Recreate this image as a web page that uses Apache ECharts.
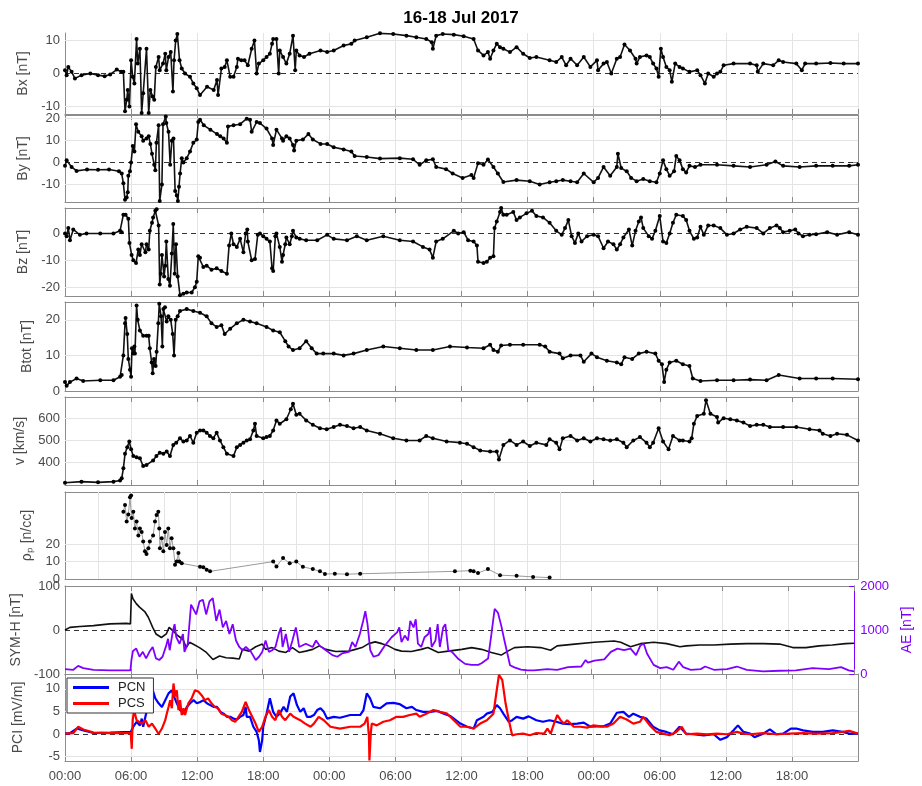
<!DOCTYPE html>
<html><head><meta charset="utf-8">
<script src="https://cdn.jsdelivr.net/npm/echarts@6/dist/echarts.min.js"></script>
<style>html,body{margin:0;padding:0;background:#fff}#c{width:922px;height:786px}</style>
</head><body><div id="c"></div>
<script>
// ---- tick labels ----
const xTickLabels = ['00:00','06:00','12:00','18:00','00:00','06:00','12:00','18:00','00:00','06:00','12:00','18:00'];
const rhoXTicks = [3,6,9,12,15,18,21,24,27,30,33,36,39,42,45];
const bxTicks = [-10,0,10];
const byTicks = [-10,0,10,20];
const bzTicks = [-20,-10,0];
const btotTicks = [0,10,20];
const vTicks = [400,500,600];
const rhoTicks = [0,10,20];
const symTicks = [-100,0,100];
const aeTicks = [0,1000,2000];
const pciTicks = [-5,0,5,10];

// ---- data: [hours since 16 Jul 00:00 UT, value] ----
const bxData = [[0,1],[0.15,-0.5],[0.3,2],[0.6,0.5],[0.9,-1.5],[1.5,-0.5],[2.3,0],[3.0,-0.5],[3.6,-0.8],[4.1,-0.3],[4.7,1.2],[5.1,0.5],[5.3,0.5],[5.45,-11.5],[5.6,-8],[5.7,-5],[5.85,-10],[6.0,4],[6.15,-1],[6.3,-3],[6.5,10.5],[6.6,3],[6.8,7.5],[6.96,-12],[7.1,-6],[7.4,7.5],[7.6,-12],[7.75,-5],[7.95,-7],[8.1,-8],[8.25,2],[8.5,5],[8.6,1],[8.9,3],[9.1,6],[9.2,1],[9.4,5],[9.6,6.5],[9.8,-5.5],[9.9,4],[10.05,10],[10.2,12],[10.4,4],[10.6,1.5],[10.9,0],[11.35,-1],[11.65,-3],[11.96,-4.5],[12.26,-6.5],[12.9,-4],[13.5,-5],[13.8,-2],[13.9,-6.5],[14.2,1.5],[14.5,2],[14.7,4],[15.0,-1],[15.3,-1],[15.6,2],[15.7,4.5],[16.0,4],[16.3,4],[16.6,2.5],[16.95,7.5],[17.2,10],[17.4,0],[17.6,3],[18.0,4],[18.3,5],[18.6,6],[18.8,9],[18.9,10.5],[19.2,10.5],[19.4,0],[19.5,7],[19.8,5],[20.1,3],[20.4,6],[20.7,11.5],[20.9,1],[21.0,7],[21.3,5.5],[21.7,5],[22.2,6],[23.2,7],[23.8,6.5],[24.4,7],[25.3,8.5],[26.0,9],[26.3,10],[27.4,11],[28.6,12.2],[29.8,12],[31.0,11.5],[31.9,11],[32.8,10.5],[33.3,9.5],[33.4,7.5],[33.7,11.5],[34.3,12],[35.3,11.8],[36.2,11.3],[37.1,10.5],[37.5,7],[38.0,5.5],[38.4,6.5],[38.6,4.5],[38.9,7],[39.2,9],[39.5,8],[39.8,7.5],[40.4,6.5],[41.0,8],[41.6,6],[42.2,4.7],[42.8,5],[44.0,4],[44.6,3.5],[45.1,5],[45.5,2.5],[45.9,4.5],[46.5,2.5],[47.1,5],[47.7,2],[48.3,4],[48.4,1],[48.9,3],[49.2,3.5],[49.6,0],[50.1,4.5],[50.4,5],[50.8,8.8],[51.3,7],[51.8,4.5],[51.9,3],[52.2,5],[52.8,5.5],[53.1,5],[53.4,3],[53.7,1.5],[53.9,-1],[54.1,7.5],[54.3,5],[54.6,2],[54.9,1],[55.1,-2.5],[55.4,3],[55.8,2],[56.1,1.5],[56.7,0.5],[57.4,1],[57.7,-0.5],[58.1,-3],[58.4,0],[58.9,-1],[59.2,0],[59.5,0.5],[59.8,2.5],[60.7,3],[62.2,3],[62.8,2.5],[62.9,0.5],[63.4,3],[64.3,2.5],[64.8,4],[65.2,3.5],[66.4,3],[66.9,1],[67.2,3],[68.2,3],[69.5,3.2],[70.7,3],[72,3]];

const byData = [[0,-1.5],[0.15,1],[0.6,-2],[1.05,-3.8],[2.0,-3.2],[3.0,-3.3],[4.0,-3.2],[4.9,-4],[5.15,-5],[5.3,-9.5],[5.45,-17],[5.6,-16],[5.7,-13.5],[5.75,-6],[5.9,-4],[6.0,0],[6.15,7.5],[6.3,5],[6.45,17.5],[6.65,14],[6.96,12],[7.1,10],[7.4,11],[7.6,12],[7.75,8.5],[7.9,4],[8.1,-1],[8.2,-3.5],[8.3,9],[8.5,17],[8.6,-17.5],[8.8,-10],[8.9,17.5],[9.15,21],[9.2,18],[9.4,14],[9.55,-1],[9.7,10],[9.85,11],[10.0,-13],[10.15,-15],[10.25,-17.5],[10.35,-11],[10.45,-5],[10.6,2],[10.75,0],[11.05,2],[11.35,5],[11.65,9],[11.96,10.5],[12.1,18.5],[12.26,19.5],[12.6,17],[13.2,15],[13.8,13],[14.1,12],[14.4,11],[14.7,9],[14.8,16.5],[15.3,17],[15.9,17.5],[16.5,20],[16.8,19.5],[16.95,14],[17.4,18.5],[17.7,18],[18.3,15.5],[18.8,11],[18.9,8],[19.2,15],[19.7,11],[19.8,10],[20.1,12],[20.4,11],[20.7,8],[20.8,5.5],[21.0,10],[21.6,10.5],[22.1,13],[22.5,10.5],[23.2,8.5],[23.8,8.5],[24.4,7],[25.3,6],[26.0,5],[26.3,3],[27.4,2.5],[28.6,1.8],[30.4,2],[31.6,1.5],[32.2,-1],[32.8,1],[33.4,1.5],[33.7,-2],[34.6,-3],[35.2,-5],[36.1,-7],[36.9,-5.7],[37.1,-7],[37.5,-0.3],[38.0,-1],[38.4,1.4],[38.9,-2],[39.3,-5],[39.8,-8.9],[41.0,-8],[42.2,-8.5],[43.1,-10],[44.0,-9],[44.6,-8.5],[45.2,-8],[45.9,-8.5],[46.5,-9],[47.1,-5],[48.0,-9],[48.4,-7],[48.9,-2],[49.5,-6],[50.1,-2],[50.2,4],[50.5,-2.5],[51.0,-4],[51.4,-7],[51.9,-8.5],[52.5,-7.5],[53.1,-8.5],[53.7,-9],[54.0,-5],[54.3,1],[54.6,-3],[54.9,-6],[55.3,-4],[55.5,3],[55.8,1],[56.1,-3],[56.4,-4.5],[56.7,-1.5],[57.2,-2],[57.7,-1],[59.2,-1],[60.7,-1.5],[62.2,-2],[63.7,-1],[64.5,0.5],[65.2,-1.5],[66.7,-2],[68.2,-1.5],[69.7,-1.5],[71.2,-1.5],[72,-1]];

const bzData = [[0,0],[0.15,-1],[0.3,2],[0.45,-2.5],[0.75,1.5],[1.35,-0.5],[1.95,0],[3.2,0],[4.4,0],[5.0,1],[5.15,0.5],[5.3,7],[5.5,7],[5.75,5.5],[5.85,-3.5],[6.05,-8],[6.2,-10],[6.45,-11],[6.65,-6],[6.8,-8],[6.96,-4],[7.3,-7],[7.4,-4],[7.6,-6],[7.7,1],[7.9,4],[8.0,6],[8.2,8.5],[8.32,9],[8.5,3],[8.6,-19],[8.7,-15],[8.8,-8],[9.0,-16],[9.1,-12],[9.2,-3],[9.38,-17],[9.53,-19.5],[9.7,-7.5],[9.83,3.5],[9.96,-15],[10.08,-4],[10.23,-16],[10.44,-23],[10.75,-22.5],[11.05,-22],[11.5,-22],[11.8,-20],[11.96,-18],[12.1,-8.5],[12.26,-9],[12.56,-12.5],[12.86,-12],[13.3,-13.5],[13.77,-13],[14.2,-14],[14.7,-15],[14.9,-4.5],[15.1,0],[15.3,-4],[15.6,-5],[15.9,-2],[16.2,-7],[16.4,0],[16.55,1.5],[16.6,-3],[16.95,-10],[17.25,-9.5],[17.5,-0.5],[17.7,0],[18.0,-1],[18.3,-2],[18.6,-3],[18.8,-13],[18.9,-14],[19.1,-1],[19.2,0],[19.5,-5],[19.7,-10.5],[19.8,-8],[20.0,-4],[20.1,-1.5],[20.4,-4],[20.6,-1],[20.7,1],[21.0,-1.5],[21.3,-2],[21.9,-2.5],[22.9,-2.5],[23.8,-0.5],[24.4,-2],[25.6,-2.5],[26.5,-1],[27.4,-2.5],[28.9,-1],[30.4,-2.5],[31.6,-3],[32.5,-5],[33.1,-6],[33.4,-9],[33.7,-3],[34.3,-2],[35.3,1],[35.7,0],[36.2,0.5],[36.6,-2.5],[37.1,-3],[37.4,-4.5],[37.5,-10.5],[38.0,-11],[38.3,-10.5],[38.6,-9],[38.9,-8.5],[39.0,2],[39.2,4.5],[39.5,8],[39.6,9.5],[39.8,7],[40.1,7],[40.7,8],[41.0,5],[41.3,6],[41.9,7.5],[42.4,8.5],[42.8,6.5],[43.4,6],[44.0,4],[44.6,1],[45.1,-0.5],[45.4,2],[45.7,5],[46.0,-1],[46.3,-3.5],[46.6,0],[46.9,-3],[47.4,-1],[48.0,-0.5],[48.4,-1],[48.9,-5.5],[49.3,-3],[49.8,-4],[50.1,-6],[50.4,-4],[50.7,-1.5],[51.2,1.5],[51.5,-4.5],[51.8,1],[52.1,4.5],[52.3,6],[52.5,2],[53.0,-1],[53.3,-2],[53.6,1],[54.0,6.5],[54.3,-3],[54.6,-3.5],[54.9,0],[55.2,4],[55.5,7],[56.1,6.5],[56.4,5],[56.7,1],[57.1,-2],[57.4,-1.5],[57.7,2.5],[58.0,-0.5],[58.4,3],[58.9,3],[59.5,2],[60.1,-0.5],[60.7,0],[61.3,1.5],[61.9,2.5],[62.8,2],[63.4,0],[64.0,2],[64.6,3],[64.9,2],[65.2,0.5],[65.8,1],[66.3,1.5],[66.6,0],[67.0,-1],[67.6,-0.5],[68.2,-0.3],[69.2,0.5],[70.1,-0.5],[71.2,0.5],[72,-0.5]];

const btotData = [[0,2.5],[0.15,1.5],[0.45,2.5],[1.05,3.5],[1.65,2.8],[3.2,3],[4.4,3],[5.0,4],[5.15,4.5],[5.3,10],[5.45,19],[5.5,20.5],[5.65,16],[5.75,9],[5.9,6],[6.0,4],[6.08,12],[6.2,10.5],[6.3,12.5],[6.35,10.5],[6.5,24],[6.6,20],[6.8,17],[7.1,15.5],[7.4,15.5],[7.6,15.5],[7.7,12],[7.87,8],[7.96,5],[8.08,9],[8.23,7],[8.32,11],[8.47,19],[8.56,24.5],[8.72,21],[8.84,12.5],[8.93,23],[9.08,23.5],[9.23,19.5],[9.38,21],[9.6,20],[9.78,16],[9.9,10],[10.05,20],[10.23,21],[10.44,22.5],[11.05,23],[11.65,22.5],[12.26,22],[12.86,21],[13.3,19],[13.77,18],[14.2,18.5],[14.5,16],[15.0,17.5],[15.6,19],[16.2,20],[16.8,19.5],[17.4,19],[18.3,18],[18.9,17],[19.5,16.5],[20.0,14],[20.3,12.5],[20.7,11.5],[21.3,12],[21.9,14],[22.4,12],[22.85,10.5],[23.45,10.5],[24.4,10.5],[25.3,10],[26.2,10.5],[27.4,11.5],[28.9,12.5],[30.4,12],[31.9,11.5],[33.4,11.5],[34.95,12.5],[36.5,12.2],[38.0,12],[38.6,13],[38.9,11.5],[39.3,11],[39.6,12.8],[40.4,13],[41.6,13],[43.1,13],[43.6,12.5],[44.0,11],[44.9,10.5],[45.2,9.2],[45.9,10],[46.8,10],[47.1,8.2],[47.8,10.5],[48.3,9.5],[49.2,8.5],[50.1,8],[50.5,7.5],[50.8,9.5],[51.5,9],[52.1,10.5],[52.8,11],[53.6,10.5],[53.9,8.5],[54.2,7.5],[54.4,2.5],[54.6,6],[54.9,8],[55.5,8.5],[56.1,7.5],[56.7,7],[57.0,3.5],[57.7,2.8],[59.2,3],[60.7,3],[62.2,3.2],[63.7,3],[64.8,4.5],[66.7,3.5],[68.2,3.5],[69.7,3.5],[72,3.3]];

const vData = [[0,310],[1.5,315],[3.0,312],[4.4,315],[5.0,320],[5.15,330],[5.3,375],[5.45,440],[5.65,470],[5.84,495],[6.0,460],[6.2,430],[6.5,425],[6.8,420],[7.1,385],[7.4,390],[8.0,410],[8.3,430],[8.6,445],[8.93,440],[9.23,450],[9.53,430],[9.83,480],[10.1,490],[10.44,510],[10.75,495],[11.05,500],[11.35,520],[11.65,490],[11.96,535],[12.26,545],[12.56,545],[12.86,535],[13.16,520],[13.47,510],[13.77,535],[14.07,500],[14.38,470],[14.7,440],[15.3,430],[15.6,470],[15.9,480],[16.2,490],[16.5,500],[16.8,505],[17.1,545],[17.25,575],[17.4,520],[18.0,510],[18.3,515],[18.6,520],[18.9,545],[19.2,590],[19.5,575],[20.1,595],[20.5,640],[20.7,665],[21.0,615],[21.3,620],[21.9,590],[22.5,570],[23.15,555],[23.76,550],[24.4,560],[24.97,570],[25.6,565],[26.2,555],[26.8,560],[27.4,545],[28.6,530],[29.8,510],[31.0,500],[32.2,500],[32.8,520],[33.4,510],[34.65,495],[35.86,490],[36.5,485],[37.1,470],[37.7,455],[38.6,450],[39.2,450],[39.4,415],[39.8,480],[40.4,500],[41.0,480],[41.6,495],[42.2,475],[42.8,490],[43.7,480],[44.0,505],[44.6,490],[44.9,460],[45.2,510],[45.9,520],[46.5,500],[47.1,510],[47.7,495],[48.3,510],[48.9,505],[49.5,500],[50.1,505],[50.7,490],[51.0,470],[51.6,500],[52.2,515],[52.8,490],[53.1,470],[53.4,490],[53.9,555],[54.3,495],[54.8,460],[55.2,520],[55.8,500],[56.1,500],[56.7,495],[56.9,510],[57.1,575],[57.4,610],[58.0,620],[58.2,680],[58.6,620],[59.2,605],[59.3,580],[59.8,600],[60.4,595],[61.0,590],[61.6,580],[62.2,565],[62.8,570],[63.4,570],[64.0,560],[65.2,560],[66.4,560],[67.6,550],[68.5,545],[68.8,530],[69.5,520],[70.1,530],[71.0,525],[72,500]];

const rhoData = [[5.3,38.7],[5.45,42.5],[5.6,33],[5.75,37],[5.9,47],[6.0,48],[6.05,35],[6.2,38.7],[6.35,29],[6.5,33],[6.66,25],[6.8,29],[6.96,27],[7.1,21.5],[7.26,16],[7.4,14.3],[7.57,17.7],[7.7,21.5],[8.0,25],[8.17,33],[8.32,36.8],[8.47,38.7],[8.56,29],[8.62,17.7],[8.78,23.4],[8.93,16],[9.08,27],[9.23,19.6],[9.38,29],[9.53,17.7],[9.68,23.4],[9.84,17.7],[9.99,8.2],[10.14,10],[10.3,14.9],[10.38,10],[10.6,9],[12.26,7],[12.56,6.7],[12.86,5.3],[13.17,4.4],[18.9,10],[19.2,7.2],[19.8,12],[20.4,9],[21.0,10],[21.6,7],[22.5,5.7],[23.15,4.4],[23.6,2.9],[24.5,3],[25.6,2.8],[26.8,3],[35.4,4.4],[36.8,4.8],[37.1,4.4],[37.5,3.4],[38.4,5.7],[39.5,2.2],[41.0,1.8],[42.5,1.2],[44.0,0.8]];

const symhData = [[0,0],[0.45,6],[1.36,8],[2.6,10],[4.1,14],[5.6,15],[5.97,14],[6.06,83],[6.2,71],[6.5,60],[6.8,52],[7.3,41],[7.6,29],[8.0,6],[8.3,-9],[8.8,-17],[9.24,-9],[9.5,6],[9.85,-2],[10.3,-13],[10.76,-21],[11.06,-40],[11.36,-28],[11.67,-32],[12.27,-40],[12.9,-51],[13.5,-67],[14.1,-59],[14.7,-63],[15.3,-64],[15.9,-66],[16.2,-44],[16.8,-48],[17.4,-38],[18.0,-32],[18.3,-44],[18.9,-40],[19.5,-48],[20.15,-51],[20.75,-40],[21.36,-51],[21.97,-48],[22.6,-44],[23.2,-36],[23.8,-44],[24.7,-49],[25.9,-48],[26.5,-44],[27.1,-40],[27.7,-31],[28.3,-27],[28.9,-31],[29.5,-36],[30.1,-44],[30.7,-48],[31.6,-49],[32.5,-44],[33.1,-40],[34.06,-51],[34.96,-48],[36.2,-44],[37.1,-40],[38.0,-44],[38.9,-51],[39.8,-57],[40.4,-48],[41.0,-40],[42.2,-38],[43.4,-40],[44.3,-46],[44.9,-36],[46.5,-32],[48.3,-28],[50.1,-25],[50.7,-28],[51.6,-38],[52.5,-31],[53.7,-28],[54.9,-31],[56.1,-38],[56.7,-36],[57.9,-34],[59.2,-34],[60.7,-32],[62.2,-31],[63.7,-31],[65.2,-32],[66.4,-40],[67.6,-40],[68.8,-36],[70.0,-34],[71.2,-31],[72,-30]];

const aeData = [[0,111],[0.76,96],[1.2,185],[1.67,133],[2.6,96],[4.1,81],[5.97,81],[6.06,318],[6.2,525],[6.5,577],[6.8,392],[7.1,503],[7.4,355],[7.7,503],[8.0,614],[8.3,355],[8.6,318],[8.9,392],[9.24,651],[9.4,800],[9.55,540],[9.85,984],[10.0,1132],[10.15,836],[10.45,688],[10.76,910],[10.9,503],[11.2,688],[11.5,1576],[11.67,1613],[11.97,1354],[12.27,1650],[12.58,1687],[12.88,1354],[13.18,1650],[13.48,1724],[13.8,1206],[14.1,1465],[14.4,1058],[14.7,1206],[15.0,910],[15.3,1132],[15.6,762],[15.9,614],[16.2,540],[16.5,614],[16.97,503],[17.4,318],[17.7,392],[18.0,503],[18.3,762],[18.6,503],[18.9,540],[19.2,614],[19.5,910],[19.7,1058],[19.85,614],[20.15,910],[20.45,503],[20.75,762],[21.06,1058],[21.2,873],[21.36,614],[21.97,688],[22.6,614],[22.9,762],[23.2,651],[23.8,540],[24.4,429],[24.85,392],[25.27,466],[25.9,503],[26.2,725],[26.5,614],[26.9,910],[27.2,1206],[27.4,1428],[27.6,1132],[27.85,540],[28.15,392],[28.6,429],[29.2,651],[29.8,836],[30.3,947],[30.5,1058],[30.7,725],[31.0,873],[31.3,762],[31.5,1206],[31.8,1058],[32.0,1243],[32.2,688],[32.5,614],[32.8,836],[33.15,910],[33.3,1058],[33.45,614],[33.8,762],[34.0,1132],[34.2,614],[34.5,1058],[34.7,1132],[34.97,540],[35.3,503],[35.9,340],[36.5,230],[37.1,207],[37.7,207],[38.0,244],[38.6,350],[38.9,900],[39.2,1480],[39.5,1391],[39.8,1100],[40.1,750],[40.4,420],[40.6,200],[41.0,150],[41.6,100],[42.2,81],[42.8,81],[44.0,111],[44.9,96],[45.9,155],[47.1,170],[47.5,318],[47.7,259],[48.3,303],[49.2,333],[49.8,503],[50.4,577],[51.0,540],[51.6,577],[52.1,429],[52.5,651],[52.8,688],[53.1,466],[53.7,207],[54.3,133],[54.9,155],[55.5,96],[56.0,281],[56.4,155],[57.1,96],[58.0,111],[58.4,170],[59.2,96],[60.4,111],[61.3,170],[62.2,96],[63.7,59],[65.2,74],[66.7,81],[68.2,133],[69.7,111],[70.8,155],[71.5,81],[72,59]];

const pcnData = [[0,0.07],[0.45,0.2],[1.06,1.2],[1.67,0.8],[2.6,0.2],[4.1,0.3],[5.97,0.45],[6.2,1.6],[6.5,2.7],[6.8,1.9],[6.97,3.4],[7.1,1.6],[7.3,3.8],[7.5,6.0],[7.7,11.6],[7.97,9.7],[8.2,7.9],[8.5,6.8],[8.8,6.0],[9.1,7.5],[9.4,9.0],[9.7,9.7],[9.85,8.6],[10.15,6.8],[10.45,5.3],[10.76,4.5],[11.06,6.0],[11.36,6.8],[11.67,7.5],[11.97,6.8],[12.27,7.1],[12.58,7.5],[12.88,6.8],[13.18,6.4],[13.48,6.0],[13.8,6.0],[14.1,4.9],[14.4,4.5],[14.7,3.8],[15.0,3.8],[15.3,3.4],[15.6,3.2],[15.9,3.8],[16.2,4.2],[16.4,6.0],[16.5,3.8],[16.8,3.8],[17.1,1.6],[17.4,0.45],[17.6,-1.4],[17.7,-4.0],[17.9,-1.4],[18.0,1.6],[18.3,4.5],[18.6,7.9],[18.9,4.9],[19.2,3.8],[19.5,4.5],[19.85,6.0],[20.15,4.9],[20.45,8.3],[20.75,9.0],[21.06,6.4],[21.36,4.9],[21.67,5.7],[21.97,3.8],[22.3,3.8],[22.6,4.2],[22.9,5.3],[23.2,5.7],[23.5,4.9],[23.8,3.4],[24.4,3.8],[24.97,3.6],[25.9,4.2],[26.8,4.2],[27.1,5.3],[27.4,9.0],[27.7,7.9],[28.0,6.0],[28.6,5.7],[29.2,6.8],[29.8,6.9],[30.4,6.6],[31.0,5.7],[31.5,6.0],[31.9,5.3],[32.5,4.9],[33.15,4.9],[33.8,5.1],[34.4,4.5],[34.97,4.0],[35.9,2.3],[36.5,1.6],[37.1,1.2],[37.4,3.05],[38.0,3.8],[38.3,4.5],[38.8,4.9],[39.2,6.4],[39.5,5.7],[39.8,4.5],[40.3,2.7],[40.6,3.05],[41.0,3.8],[41.6,3.4],[42.1,3.9],[42.8,3.05],[43.4,2.7],[44.0,3.05],[44.6,2.7],[45.2,2.3],[45.9,2.2],[46.5,2.3],[47.1,2.5],[47.7,1.6],[48.3,1.7],[48.9,1.7],[49.5,2.3],[50.1,4.7],[50.7,4.9],[51.2,3.8],[51.6,4.5],[52.2,3.8],[52.8,3.4],[53.4,1.6],[54.0,0.8],[54.6,0.45],[55.2,-0.07],[55.8,1.6],[56.4,0.07],[57.0,-0.07],[58.0,-0.3],[58.9,-0.07],[59.5,-1.3],[60.1,-0.7],[60.7,0.8],[61.1,1.9],[61.6,0.45],[62.2,0.07],[62.6,-0.7],[63.4,0.07],[64.0,1.0],[64.6,-0.07],[65.2,0.07],[65.9,1.2],[66.4,1.2],[67.0,0.8],[67.9,0.45],[68.8,0.45],[69.7,0.8],[70.6,0.45],[71.2,0.07],[72,0.07]];

const pcsData = [[0,0.07],[0.76,0.2],[1.2,1.6],[1.67,1.0],[2.6,0.3],[4.1,0.2],[5.97,0.2],[6.06,-3.3],[6.15,3.05],[6.27,5.3],[6.5,3.05],[6.97,2.3],[7.3,3.05],[7.6,1.6],[7.9,2.3],[8.2,1.2],[8.5,0.0],[8.8,1.2],[9.1,3.05],[9.24,4.5],[9.4,6.0],[9.55,7.5],[9.7,5.7],[9.85,11.2],[10.0,8.3],[10.15,9.7],[10.3,5.3],[10.45,7.5],[10.6,4.2],[10.76,5.7],[10.9,4.2],[11.2,6.8],[11.5,7.9],[11.8,9.7],[12.1,9.4],[12.4,8.6],[12.7,7.5],[13.0,7.9],[13.3,6.8],[13.6,6.0],[13.9,5.7],[14.2,4.5],[14.5,4.2],[14.85,3.8],[15.15,3.05],[15.45,2.7],[15.75,3.8],[16.05,4.9],[16.4,7.1],[16.7,5.3],[17.0,3.8],[17.3,2.3],[17.6,0.45],[17.9,1.6],[18.2,3.8],[18.5,5.3],[18.8,3.8],[19.1,3.05],[19.4,5.3],[19.7,3.8],[20.0,3.05],[20.45,4.5],[20.75,3.8],[21.36,3.05],[21.8,2.3],[22.3,1.6],[22.6,2.3],[23.03,3.8],[23.5,3.05],[24.1,1.6],[24.97,1.2],[25.9,1.6],[26.8,1.6],[27.2,2.3],[27.45,3.8],[27.6,-0.7],[27.64,-5.9],[27.76,0.07],[27.85,2.3],[28.3,1.9],[28.9,2.7],[29.5,3.05],[30.1,3.8],[30.7,3.8],[31.3,4.2],[31.9,4.5],[32.2,3.8],[32.8,4.5],[33.45,5.3],[34.06,4.9],[34.7,4.5],[35.3,3.05],[35.9,1.6],[36.5,1.6],[37.1,1.2],[37.7,2.3],[38.3,3.05],[38.9,4.5],[39.2,9.7],[39.4,13.1],[39.7,12],[40.0,6.8],[40.3,3.05],[40.6,-0.3],[41.0,-0.07],[41.6,0.07],[42.2,-0.3],[42.8,0.2],[43.5,0.07],[43.8,1.2],[44.1,0.07],[44.4,2.3],[44.7,4.2],[45.0,3.05],[45.3,2.3],[45.6,3.05],[46.2,1.6],[46.8,1.6],[47.4,1.4],[48.0,1.9],[48.6,1.7],[49.2,1.6],[49.8,2.3],[50.4,3.8],[51.0,3.2],[51.6,2.3],[52.2,2.7],[52.5,3.8],[53.1,1.9],[53.7,0.45],[54.3,0.07],[54.9,-0.3],[55.5,0.45],[56.0,1.6],[56.4,-0.07],[57.4,0.07],[58.3,-0.07],[59.2,0.07],[60.1,-0.07],[61.0,0.45],[61.6,0.07],[62.2,-0.07],[63.4,0.2],[64.6,-0.07],[65.8,0.07],[67.0,0.2],[68.2,0.07],[69.7,0.2],[70.6,0.45],[71.2,0.7],[72,0.07]];

// ---- layout / style ----
const FONT = 'Liberation Sans, Arial, sans-serif';
const LABEL_COLOR = '#4a4a4a', AXIS_COLOR = '#8c8c8c', GRID_COLOR = '#e4e4e4';
const AE_COLOR = '#8000ff';

const panels = [
  {label:'Bx [nT]',    top:33,  height:81, min:-12.3, max:12.3, ticks:bxTicks,   zero:true, box:false, nameGap:31, series:[{data:bxData, kind:'dots'}]},
  {label:'By [nT]',    top:115, height:87, min:-18,   max:21.7, ticks:byTicks,   zero:true, nameGap:31, series:[{data:byData, kind:'dots'}]},
  {label:'Bz [nT]',    top:208, height:88, min:-23.3, max:9.5,  ticks:bzTicks,   zero:true, nameGap:31, series:[{data:bzData, kind:'dots'}]},
  {label:'Btot [nT]',  top:302, height:89, min:0,     max:25,   ticks:btotTicks, nameGap:25, series:[{data:btotData, kind:'dots'}]},
  {label:'v [km/s]',   top:397, height:88, min:300,   max:695,  ticks:vTicks,    nameGap:33, series:[{data:vData, kind:'dots'}]},
  {label:'ρₚ [n/cc]',  top:492, height:87, min:0,     max:50,   ticks:rhoTicks,  nameGap:31, xTicks:rhoXTicks, series:[{data:rhoData, kind:'dots', lineColor:'#9a9a9a', lineWidth:1}]},
  {label:'SYM-H [nT]', top:586, height:88, min:-100,  max:100,  ticks:symTicks,  zero:true, nameGap:40, right:'ae',
     series:[{data:symhData, kind:'line', color:'#111', width:1.6}, {data:aeData, kind:'line', color:AE_COLOR, width:1.8, right:true}]},
  {label:'PCI [mV/m]', top:674, height:87, min:-6,    max:13.3, ticks:pciTicks,  zero:true, nameGap:40,
     series:[{name:'PCN', data:pcnData, kind:'line', color:'#0000ff', width:2.2}, {name:'PCS', data:pcsData, kind:'line', color:'#ff0000', width:2.2}]}
];

const grids = [], xAxes = [], yAxes = [], series = [];
panels.forEach((p, i) => {
  const last = i === panels.length - 1;
  const box = p.box !== false;
  grids.push({left:65, right:64, top:p.top, height:p.height});
  const tickStyle = {color:AXIS_COLOR, width:1};
  const xb = {type:'value', gridIndex:i, min:0, max:72, interval:6, position:'bottom',
    axisLine:{show:true, onZero:false, lineStyle:{color:AXIS_COLOR}},
    axisTick:{show:true, inside:true, length:5, lineStyle:tickStyle},
    axisLabel:{show:last, color:LABEL_COLOR, fontSize:13, fontFamily:FONT, margin:9,
      formatter: v => (v < 72 && v % 6 === 0) ? xTickLabels[v / 6] : ''},
    splitLine:{show:!p.xTicks, lineStyle:{color:GRID_COLOR}}};
  if (p.xTicks) xb.axisTick.customValues = p.xTicks;
  xAxes.push(xb);
  const xt = {type:'value', gridIndex:i, min:0, max:72, interval:6, position:'top',
    axisLine:{show:box, onZero:false, lineStyle:{color:AXIS_COLOR}},
    axisTick:{show:box, inside:true, length:5, lineStyle:tickStyle},
    axisLabel:{show:false}, splitLine:{show:false}};
  if (p.xTicks) xt.axisTick.customValues = p.xTicks;
  xAxes.push(xt);

  yAxes.push({type:'value', gridIndex:i, position:'left', min:p.min, max:p.max,
    axisLine:{show:true, onZero:false, lineStyle:{color:AXIS_COLOR}},
    axisTick:{show:true, inside:true, length:5, customValues:p.ticks, lineStyle:tickStyle},
    axisLabel:{show:true, customValues:p.ticks, color:LABEL_COLOR, fontSize:13, fontFamily:FONT, margin:5,
      formatter: v => String(v)},
    splitLine:{show:false},
    name:p.label, nameLocation:'middle', nameGap:p.nameGap, nameRotate:90,
    nameTextStyle:{fontSize:14, color:LABEL_COLOR, fontFamily:FONT}});
  if (p.right === 'ae') {
    yAxes.push({type:'value', gridIndex:i, position:'right', min:0, max:2000,
      axisLine:{show:true, onZero:false, lineStyle:{color:AE_COLOR}},
      axisTick:{show:true, inside:true, length:5, customValues:aeTicks, lineStyle:{color:AE_COLOR}},
      axisLabel:{show:true, customValues:aeTicks, color:AE_COLOR, fontSize:13, fontFamily:FONT, margin:6,
        formatter: v => String(v)},
      splitLine:{show:false},
      name:'AE [nT]', nameLocation:'middle', nameGap:45, nameRotate:90,
      nameTextStyle:{fontSize:14, color:AE_COLOR, fontFamily:FONT}});
  } else {
    yAxes.push({type:'value', gridIndex:i, position:'right', min:p.min, max:p.max,
      axisLine:{show:box, onZero:false, lineStyle:{color:AXIS_COLOR}},
      axisTick:{show:box, inside:true, length:5, customValues:p.ticks, lineStyle:tickStyle},
      axisLabel:{show:false}, splitLine:{show:false}});
  }

  // grid lines + dashed zero line (beneath the data)
  const ml = [];
  p.ticks.forEach(t => {
    if (t === 0 && p.zero) return;
    if (t <= p.min || t >= p.max) return;
    ml.push({yAxis:t, lineStyle:{color:GRID_COLOR, width:1, type:'solid'}});
  });
  if (p.xTicks) p.xTicks.forEach(t => ml.push({xAxis:t, lineStyle:{color:GRID_COLOR, width:1, type:'solid'}}));
  if (p.zero) ml.push({yAxis:0, lineStyle:{color:'#333', width:1.2, type:[5,4]}});
  series.push({type:'line', xAxisIndex:2*i, yAxisIndex:2*i, data:[], z:1, silent:true,
    markLine:{silent:true, z:1, symbol:['none','none'], label:{show:false}, animation:false, data:ml}});

  p.series.forEach(s => {
    const base = {type:'line', xAxisIndex:2*i, yAxisIndex: s.right ? 2*i+1 : 2*i, data:s.data, z:3, animation:false};
    if (s.name) base.name = s.name;
    if (s.kind === 'dots') {
      Object.assign(base, {symbol:'circle', symbolSize:4, showSymbol:true,
        itemStyle:{color:'#000'}, lineStyle:{color:s.lineColor || '#111', width:s.lineWidth || 1.6}});
    } else {
      Object.assign(base, {symbol:'none', itemStyle:{color:s.color}, lineStyle:{color:s.color, width:s.width}});
    }
    series.push(base);
  });
});

const chart = echarts.init(document.getElementById('c'));
chart.setOption({
  animation:false,
  backgroundColor:'#fff',
  title:{text:'16-18 Jul 2017', left:'center', top:5,
    textStyle:{fontSize:17, fontWeight:'bold', color:'#000', fontFamily:FONT}},
  legend:{data:['PCN','PCS'], orient:'vertical', left:67, top:678, icon:'rect',
    itemWidth:36, itemHeight:3, itemGap:3, padding:[3,8,3,6],
    backgroundColor:'#fff', borderColor:'#333', borderWidth:1,
    textStyle:{fontSize:13, color:'#222', fontFamily:FONT, padding:[0,0,0,4]}},
  grid:grids, xAxis:xAxes, yAxis:yAxes, series:series
});
</script></body></html>
